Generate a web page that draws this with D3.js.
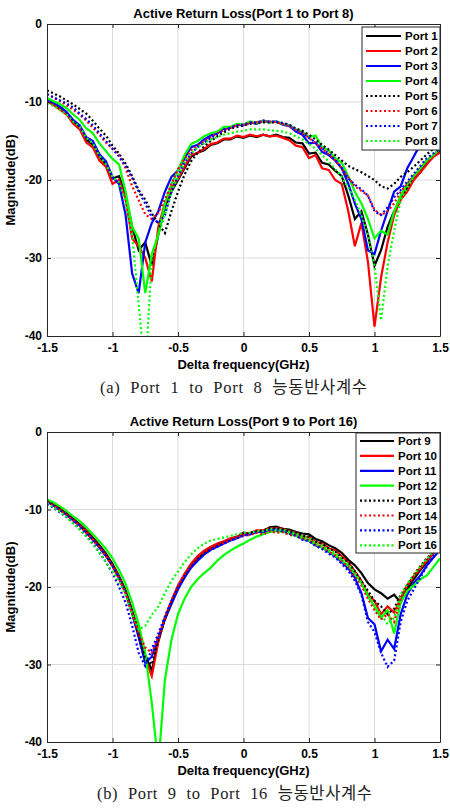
<!DOCTYPE html>
<html>
<head>
<meta charset="utf-8">
<script src="https://cdn.jsdelivr.net/npm/d3@7"></script>
<style>
  body { margin: 0; background: #fff; }
  svg { display: block; }
  text { font-family: "Liberation Sans", Arial, sans-serif; }
</style>
</head>
<body>
<div id="chart"></div>
<script>
// frequency axis (GHz), shared by both panels
const freq = [-1.5, -1.45, -1.4, -1.35, -1.3, -1.25, -1.2, -1.15, -1.1, -1.05,
  -1.0, -0.95, -0.9, -0.85, -0.8, -0.75, -0.7, -0.65, -0.6, -0.55,
  -0.5, -0.45, -0.4, -0.35, -0.3, -0.25, -0.2, -0.15, -0.1, -0.05,
  0, 0.05, 0.1, 0.15, 0.2, 0.25, 0.3, 0.35, 0.4, 0.45,
  0.5, 0.55, 0.6, 0.65, 0.7, 0.75, 0.8, 0.85, 0.9, 0.95,
  1.0, 1.05, 1.1, 1.15, 1.2, 1.25, 1.3, 1.35, 1.4, 1.45, 1.5];

// panel (a) - ports 1..8, dB
const port1 = [-9.8, -10.3, -10.9, -11.5, -12.6, -13.3, -14.8, -15.5, -17.0, -18.0,
  -19.8, -19.5, -22.0, -26.0, -29.0, -28.0, -31.0, -27.0, -23.5, -21.5,
  -20.0, -18.5, -17.0, -16.5, -16.2, -15.5, -15.3, -14.8, -14.8, -14.4,
  -14.6, -14.3, -14.5, -14.2, -14.4, -14.2, -14.5, -14.6, -15.2, -15.3,
  -16.6, -16.5, -17.8, -18.0, -18.8, -19.5, -22.0, -25.0, -24.0, -27.0,
  -31.0, -29.0, -26.0, -24.0, -22.5, -21.0, -19.8, -19.0, -17.8, -17.0, -16.3];
const port2 = [-9.9, -10.4, -11.0, -11.6, -12.8, -13.5, -15.2, -15.8, -17.5, -18.3,
  -20.5, -20.0, -22.5, -27.5, -28.5, -30.0, -33.0, -26.0, -23.0, -21.0,
  -19.8, -18.3, -16.8, -16.5, -16.0, -15.4, -15.2, -14.7, -14.7, -14.3,
  -14.5, -14.2, -14.4, -14.2, -14.4, -14.3, -14.6, -14.9, -15.6, -15.8,
  -17.2, -16.8, -18.5, -18.7, -20.0, -20.5, -24.0, -28.5, -25.5, -30.5,
  -38.8, -32.5, -28.0, -24.5, -22.5, -21.5, -20.0, -19.0, -18.0, -17.0, -16.5];
const port3 = [-9.7, -10.1, -10.6, -11.3, -12.3, -13.0, -14.5, -15.0, -16.7, -17.6,
  -19.6, -20.5, -24.5, -32.0, -34.5, -28.0, -25.5, -24.0, -21.5, -19.6,
  -18.8, -17.2, -15.8, -15.5, -14.8, -14.3, -14.0, -13.4, -13.3, -12.9,
  -13.0, -12.6, -12.8, -12.4, -12.6, -12.5, -12.9, -13.1, -13.8, -14.2,
  -15.3, -15.2, -16.4, -16.8, -17.5, -18.5, -20.5, -23.0, -25.0, -29.0,
  -29.5, -26.5, -24.0, -21.5, -20.8, -18.5, -17.0, -15.4, -15.6, -15.9, -16.2];
const port4 = [-9.5, -9.9, -10.3, -10.8, -11.6, -12.3, -13.4, -14.0, -15.3, -16.3,
  -17.3, -18.0, -21.5, -26.0, -27.5, -34.5, -29.5, -27.0, -23.0, -20.5,
  -18.8, -16.8, -15.4, -15.0, -14.4, -14.0, -13.8, -13.2, -13.2, -12.8,
  -12.9, -12.5, -12.7, -12.4, -12.6, -12.5, -12.8, -13.0, -13.5, -13.8,
  -14.5, -14.3, -15.8, -16.2, -17.2, -17.8, -19.5, -21.5, -23.0, -25.0,
  -27.5, -26.5, -27.0, -24.0, -22.0, -20.5, -19.5, -18.5, -17.5, -16.8, -16.0];
const port5 = [-8.5, -8.9, -9.3, -9.8, -10.3, -10.9, -11.5, -12.4, -13.4, -14.3,
  -15.6, -16.6, -17.9, -19.5, -21.3, -22.5, -24.3, -25.6, -26.8, -24.0,
  -21.5, -19.3, -17.6, -16.5, -15.7, -15.0, -14.4, -13.9, -13.4, -13.2,
  -13.0, -12.8, -12.7, -12.6, -12.6, -12.6, -12.7, -12.9, -13.4, -13.7,
  -14.2, -14.8, -15.5, -16.1, -16.8, -17.5, -18.2, -18.6, -19.0, -19.5,
  -20.0, -20.8, -21.1, -20.5, -19.6, -19.0, -18.3, -17.5, -16.7, -16.0, -15.4];
const port6 = [-9.0, -9.4, -9.9, -10.4, -11.0, -11.6, -12.4, -13.3, -14.2, -15.2,
  -16.0, -16.8, -18.5, -20.8, -22.6, -24.4, -25.0, -24.2, -22.5, -20.5,
  -18.6, -17.3, -16.2, -15.6, -15.0, -14.5, -14.0, -13.6, -13.3, -13.0,
  -12.9, -12.7, -12.6, -12.5, -12.5, -12.6, -12.8, -13.1, -13.6, -14.0,
  -14.6, -15.3, -16.0, -16.7, -17.5, -18.5, -19.7, -20.8, -21.4, -22.0,
  -23.8, -24.5, -24.0, -23.0, -21.5, -20.5, -19.5, -18.5, -17.5, -16.8, -16.0];
const port7 = [-9.0, -9.4, -9.8, -10.2, -10.7, -11.5, -12.2, -13.0, -14.0, -15.0,
  -16.0, -17.0, -18.2, -19.7, -21.5, -23.0, -24.8, -25.5, -24.5, -21.5,
  -19.5, -17.8, -16.6, -15.8, -15.2, -14.6, -14.1, -13.6, -13.3, -13.0,
  -12.9, -12.6, -12.6, -12.4, -12.5, -12.5, -12.7, -13.0, -13.5, -14.0,
  -14.6, -15.2, -15.9, -16.6, -17.4, -18.4, -19.8, -20.6, -21.2, -22.0,
  -24.0, -24.5, -23.5, -22.2, -21.3, -20.2, -19.2, -18.2, -17.2, -16.6, -16.0];
const port8 = [-10.2, -10.5, -11.0, -11.6, -12.5, -13.2, -14.6, -15.3, -16.9, -18.0,
  -19.6, -20.3, -22.8, -27.0, -36.0, -45.0, -30.0, -27.0, -24.5, -21.5,
  -19.6, -17.8, -16.6, -15.8, -15.3, -14.8, -14.5, -14.2, -14.0, -13.8,
  -13.7, -13.5, -13.5, -13.5, -13.6, -13.7, -13.8, -14.0, -14.4, -14.8,
  -15.4, -16.0, -16.8, -17.6, -18.6, -19.6, -21.0, -22.5, -24.5, -27.0,
  -31.0, -38.0, -31.0, -26.5, -22.5, -21.0, -19.5, -18.5, -17.5, -16.8, -16.0];

// panel (b) - ports 9..16, dB
const port9 = [-8.8, -9.3, -9.9, -10.5, -11.2, -11.9, -12.7, -13.6, -14.6, -15.7,
  -17.0, -18.6, -20.4, -23.0, -25.8, -28.8, -30.8, -27.0, -24.0, -22.0,
  -20.0, -18.6, -17.2, -16.2, -15.5, -15.0, -14.6, -14.3, -13.9, -13.6,
  -13.0, -13.1, -12.8, -12.8, -12.3, -12.2, -12.5, -12.6, -12.9, -13.1,
  -13.2, -13.8, -14.1, -14.6, -15.0, -15.6, -16.5, -17.2, -18.2, -19.5,
  -20.3, -20.8, -21.5, -21.0, -22.0, -20.3, -19.0, -17.8, -16.8, -15.6, -14.5];
const port10 = [-8.9, -9.4, -10.0, -10.6, -11.3, -12.0, -12.8, -13.8, -14.8, -15.9,
  -17.2, -18.8, -20.6, -23.3, -26.2, -29.2, -31.5, -27.0, -24.0, -21.8,
  -19.8, -18.3, -17.0, -16.0, -15.3, -14.8, -14.4, -14.1, -13.7, -13.5,
  -13.1, -13.0, -12.7, -12.7, -12.4, -12.4, -12.5, -12.8, -13.0, -13.5,
  -13.6, -14.2, -14.4, -15.0, -15.3, -16.0, -16.8, -18.0, -19.2, -21.0,
  -21.8, -23.5, -22.5, -23.3, -21.5, -19.8, -18.6, -17.6, -16.6, -15.6, -14.8];
const port11 = [-9.0, -9.5, -10.1, -10.7, -11.4, -12.1, -13.0, -13.9, -14.9, -16.0,
  -17.3, -18.9, -20.7, -23.4, -26.5, -29.8, -29.0, -26.5, -24.2, -22.2,
  -20.3, -18.8, -17.5, -16.6, -15.8, -15.2, -14.8, -14.4, -14.0, -13.7,
  -13.3, -13.2, -12.9, -12.9, -12.6, -12.6, -12.7, -13.0, -13.3, -13.8,
  -14.0, -14.6, -14.9, -15.5, -16.0, -16.8, -17.6, -18.8, -20.8, -24.0,
  -24.8, -28.3, -26.8, -28.0, -23.5, -21.0, -19.5, -18.5, -17.2, -16.2, -15.2];
const port12 = [-8.7, -9.1, -9.6, -10.2, -10.9, -11.5, -12.3, -13.2, -14.1, -15.1,
  -16.3, -17.8, -19.6, -22.0, -24.8, -28.5, -35.0, -43.0, -32.0, -26.8,
  -23.5, -21.5, -20.0, -19.0, -18.2, -17.5, -16.6, -15.9, -15.3, -14.8,
  -14.4, -13.9, -13.5, -13.2, -12.9, -12.8, -12.9, -13.1, -13.4, -13.7,
  -14.0, -14.5, -14.9, -15.4, -15.9, -16.6, -17.3, -18.3, -19.5, -21.2,
  -22.5, -24.0, -23.0, -26.0, -22.0, -20.5, -19.8, -19.0, -18.5, -17.4, -16.3];
const port13 = [-8.9, -9.4, -10.0, -10.6, -11.3, -12.0, -12.9, -13.8, -14.8, -15.9,
  -17.2, -18.8, -20.7, -23.4, -26.3, -29.3, -30.0, -26.8, -24.2, -21.9,
  -20.1, -18.6, -17.2, -16.3, -15.6, -15.0, -14.6, -14.2, -13.9, -13.5,
  -13.2, -13.0, -12.8, -12.7, -12.4, -12.4, -12.5, -12.8, -12.9, -13.4,
  -13.5, -14.1, -14.4, -15.0, -15.4, -16.2, -16.8, -18.0, -19.2, -20.5,
  -21.8, -22.5, -23.5, -22.8, -21.0, -19.8, -18.4, -17.3, -16.3, -15.4, -14.5];
const port14 = [-9.0, -9.5, -10.1, -10.7, -11.4, -12.1, -13.0, -13.9, -14.9, -16.0,
  -17.3, -18.9, -20.8, -23.5, -26.0, -27.8, -28.5, -26.5, -24.0, -21.7,
  -19.9, -18.4, -17.1, -16.2, -15.5, -15.0, -14.6, -14.3, -13.9, -13.6,
  -13.3, -13.3, -13.0, -13.2, -12.8, -13.0, -12.9, -13.3, -13.3, -13.8,
  -13.9, -14.5, -14.8, -15.4, -15.9, -16.6, -17.4, -18.6, -19.8, -21.5,
  -23.0, -24.2, -23.5, -24.5, -21.5, -19.8, -18.6, -17.5, -16.5, -15.6, -14.8];
const port15 = [-9.3, -9.8, -10.4, -11.0, -11.7, -12.5, -13.4, -14.4, -15.5, -16.8,
  -18.2, -20.0, -22.0, -25.0, -28.5, -30.2, -28.0, -26.0, -23.8, -21.8,
  -20.0, -18.6, -17.4, -16.5, -15.8, -15.2, -14.8, -14.4, -14.0, -13.7,
  -13.4, -13.2, -12.9, -12.9, -12.6, -12.7, -12.8, -13.1, -13.4, -13.9,
  -14.1, -14.7, -15.1, -15.7, -16.2, -17.0, -17.9, -19.2, -21.0, -24.5,
  -25.8, -28.5, -30.3, -29.5, -24.5, -21.8, -20.3, -18.8, -17.3, -16.1, -15.0];
const port16 = [-9.2, -9.7, -10.3, -11.0, -11.8, -12.6, -13.5, -14.5, -15.6, -16.8,
  -18.0, -19.2, -21.0, -23.5, -25.5, -25.0, -23.6, -22.5, -20.8, -19.2,
  -18.0, -16.8, -15.8, -15.0, -14.4, -14.0, -13.8, -13.6, -13.4, -13.2,
  -13.0, -13.0, -12.8, -12.8, -12.5, -12.6, -12.6, -12.9, -13.1, -13.5,
  -13.7, -14.3, -14.6, -15.2, -15.6, -16.4, -17.1, -18.2, -19.5, -21.0,
  -22.5, -23.5, -24.8, -24.0, -21.0, -19.6, -18.4, -17.4, -16.4, -15.4, -14.5];

const xTicks = [-1.5, -1, -0.5, 0, 0.5, 1, 1.5];
const yTicks = [0, -10, -20, -30, -40];
const namesA = ["Port 1", "Port 2", "Port 3", "Port 4", "Port 5", "Port 6", "Port 7", "Port 8"];
const namesB = ["Port 9", "Port 10", "Port 11", "Port 12", "Port 13", "Port 14", "Port 15", "Port 16"];
const lineColors = ["#000000", "#ff0000", "#0000ff", "#00ff00", "#000000", "#ff0000", "#0000ff", "#00ff00"];
const lineDotted = [false, false, false, false, true, true, true, true];

const W = 450, H = 809;
const svg = d3.select("#chart").append("svg")
    .attr("width", W)
    .attr("height", H);

const fmt = d => String(d);

function drawPanel(p) {
    const x = d3.scaleLinear().domain([-1.5, 1.5]).range([p.left, p.right]);
    const y = d3.scaleLinear().domain([-40, 0]).range([p.bottom, p.top]);
    const g = svg.append("g");

    g.append("clipPath").attr("id", p.id)
      .append("rect")
        .attr("x", p.left).attr("y", p.top)
        .attr("width", p.right - p.left).attr("height", p.bottom - p.top);

    // grid
    g.selectAll(".gx").data(xTicks.slice(1, -1)).enter().append("line")
        .attr("x1", d => x(d)).attr("x2", d => x(d))
        .attr("y1", p.top).attr("y2", p.bottom)
        .attr("stroke", "#dcdcdc").attr("stroke-width", 1);
    g.selectAll(".gy").data(yTicks.slice(1, -1)).enter().append("line")
        .attr("x1", p.left).attr("x2", p.right)
        .attr("y1", d => y(d)).attr("y2", d => y(d))
        .attr("stroke", "#dcdcdc").attr("stroke-width", 1);

    // curves
    const line = d3.line().x((d, i) => x(freq[i])).y(d => y(d));
    const curves = g.append("g").attr("clip-path", `url(#${p.id})`);
    p.series.forEach((s, i) => {
        curves.append("path")
            .attr("d", line(s))
            .attr("fill", "none")
            .attr("stroke", lineColors[i])
            .attr("stroke-width", 2.2)
            .attr("stroke-dasharray", lineDotted[i] ? "2,2.5" : null);
    });

    // axes, ticks pointing inward
    const bottomAx = g.append("g").attr("transform", `translate(0,${p.bottom})`)
        .call(d3.axisBottom(x).tickValues(xTicks).tickFormat(fmt).tickSize(-4).tickSizeOuter(0).tickPadding(7));
    const leftAx = g.append("g").attr("transform", `translate(${p.left},0)`)
        .call(d3.axisLeft(y).tickValues(yTicks).tickFormat(fmt).tickSize(-4).tickSizeOuter(0).tickPadding(5));
    g.append("g").attr("transform", `translate(0,${p.top})`)
        .call(d3.axisTop(x).tickValues(xTicks).tickFormat("").tickSize(-4).tickSizeOuter(0));
    g.append("g").attr("transform", `translate(${p.right},0)`)
        .call(d3.axisRight(y).tickValues(yTicks).tickFormat("").tickSize(-4).tickSizeOuter(0));
    g.selectAll(".domain").attr("stroke", "#262626");
    g.selectAll(".tick line").attr("stroke", "#262626");
    [bottomAx, leftAx].forEach(a => a.selectAll("text")
        .attr("font-size", 12).attr("font-weight", "bold").attr("fill", "#000"));

    // title and labels
    g.append("text")
        .attr("x", (p.left + p.right) / 2).attr("y", p.top - 6)
        .attr("text-anchor", "middle")
        .attr("font-size", 13).attr("font-weight", "bold")
        .text(p.title);
    g.append("text")
        .attr("x", (p.left + p.right) / 2).attr("y", p.bottom + 33)
        .attr("text-anchor", "middle")
        .attr("font-size", 13).attr("font-weight", "bold")
        .text("Delta frequency(GHz)");
    g.append("text")
        .attr("transform", `translate(15,${(p.top + p.bottom) / 2}) rotate(-90)`)
        .attr("text-anchor", "middle")
        .attr("font-size", 13).attr("font-weight", "bold")
        .text("Magnitude(dB)");
    g.append("text")
        .attr("x", p.capX).attr("y", p.bottom + 57)
        .style("font-family", "'Liberation Serif', 'DejaVu Serif', 'Noto Sans CJK KR', serif")
        .style("word-spacing", "5px")
        .attr("font-size", 16.5).attr("fill", "#222")
        .attr("textLength", p.capW).attr("lengthAdjust", "spacing")
        .text(p.caption);

    // legend
    const lg = g.append("g");
    lg.append("rect")
        .attr("x", p.leg.x).attr("y", p.leg.y)
        .attr("width", p.leg.w).attr("height", p.leg.h)
        .attr("fill", "#fff").attr("stroke", "#262626").attr("stroke-width", 1);
    p.names.forEach((n, i) => {
        const yy = p.leg.first + i * p.leg.step;
        lg.append("line")
            .attr("x1", p.leg.x + 4).attr("x2", p.leg.x + 4 + p.leg.len)
            .attr("y1", yy).attr("y2", yy)
            .attr("stroke", lineColors[i]).attr("stroke-width", 2.2)
            .attr("stroke-dasharray", lineDotted[i] ? "2,2.5" : null);
        lg.append("text")
            .attr("x", p.leg.x + p.leg.len + 8).attr("y", yy + 4)
            .attr("font-size", 11.5).attr("font-weight", "bold")
            .text(n);
    });
}

drawPanel({
    id: "clipA", left: 47, right: 440, top: 24, bottom: 336,
    title: "Active Return Loss(Port 1 to Port 8)",
    caption: "(a) Port 1 to Port 8 능동반사계수", capX: 100, capW: 267,
    names: namesA,
    series: [port1, port2, port3, port4, port5, port6, port7, port8],
    leg: { x: 362, y: 27, w: 78, h: 123, first: 36, step: 15, len: 35 }
});

drawPanel({
    id: "clipB", left: 47, right: 440, top: 432, bottom: 742,
    title: "Active Return Loss(Port 9 to Port 16)",
    caption: "(b) Port 9 to Port 16 능동반사계수", capX: 97, capW: 275,
    names: namesB,
    series: [port9, port10, port11, port12, port13, port14, port15, port16],
    leg: { x: 356, y: 433, w: 84, h: 120, first: 441, step: 14.9, len: 34 }
});
</script>
</body>
</html>
